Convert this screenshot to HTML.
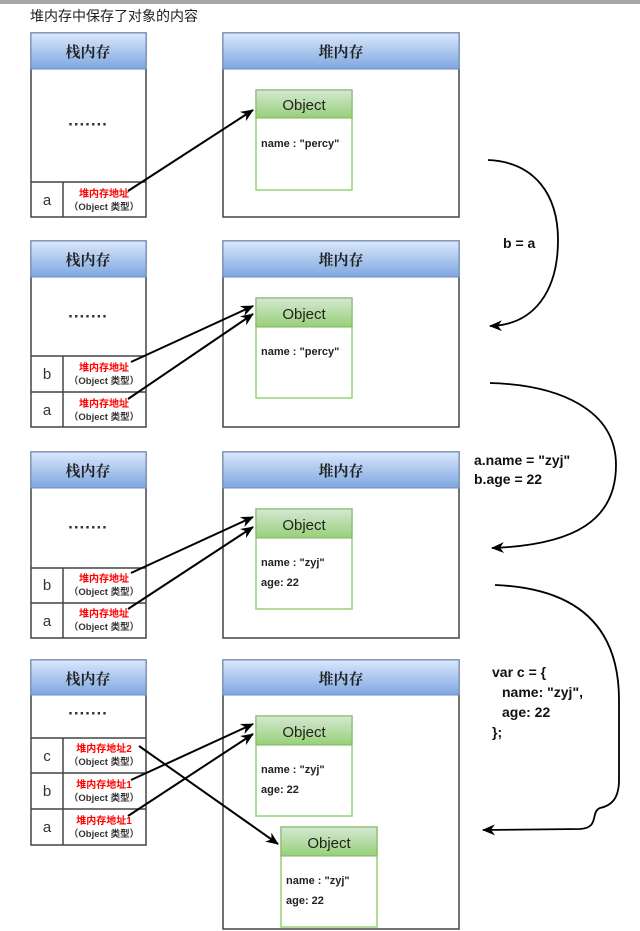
<!DOCTYPE html>
<html><head><meta charset="utf-8"><style>
html,body{margin:0;padding:0;background:#fff;}
svg{display:block}
.t{font-family:"Liberation Sans","Noto Sans CJK SC",sans-serif;}
.d{font-family:"Liberation Sans",sans-serif;font-size:17px;font-weight:bold;fill:#333;}
.h{font-family:"Noto Serif CJK SC","Liberation Serif",serif;font-size:15px;font-weight:bold;fill:#222;}
.red{font-family:"Liberation Sans","Noto Sans CJK SC",sans-serif;font-size:10px;font-weight:bold;fill:#f00;}
.ot{font-family:"Liberation Sans","Noto Sans CJK SC",sans-serif;font-size:9.5px;font-weight:bold;fill:#333;}
.obj{font-family:"Liberation Sans",sans-serif;font-size:15px;fill:#222;}
.fld{font-family:"Liberation Sans",sans-serif;font-size:11px;font-weight:bold;fill:#222;}
.lbl{font-family:"Liberation Sans",sans-serif;font-size:14px;font-weight:bold;fill:#111;}
</style></head><body>
<svg width="640" height="931" viewBox="0 0 640 931" xmlns="http://www.w3.org/2000/svg">
<defs>
<linearGradient id="bl" x1="0" y1="0" x2="0" y2="1"><stop offset="0" stop-color="#dae8fc"/><stop offset="1" stop-color="#7ea6e0"/></linearGradient>
<linearGradient id="gr" x1="0" y1="0" x2="0" y2="1"><stop offset="0" stop-color="#d5e8d4"/><stop offset="1" stop-color="#97d077"/></linearGradient>
<marker id="ar" markerWidth="14" markerHeight="14" refX="12" refY="7" orient="auto" markerUnits="userSpaceOnUse"><path d="M0,1.5 L13,7 L0,12.5 L4,7 Z" fill="#000"/></marker>
</defs>
<rect x="0" y="0" width="640" height="4" fill="#a6a6a6"/>
<text x="30" y="21" class="t" font-size="14" fill="#222">堆内存中保存了对象的内容</text>

<!-- Panel 1 -->
<g stroke="#444" stroke-width="1.5" fill="none">
<rect x="31" y="33" width="115" height="184" fill="#fff"/>
<rect x="223" y="33" width="236" height="184" fill="#fff"/>
</g>
<rect x="31" y="33" width="115" height="36" fill="url(#bl)" stroke="#6c8ebf"/>
<rect x="223" y="33" width="236" height="36" fill="url(#bl)" stroke="#6c8ebf"/>
<text x="88" y="57" class="h" text-anchor="middle">栈内存</text>
<text x="341" y="57" class="h" text-anchor="middle">堆内存</text>
<text x="88" y="130" class="d" text-anchor="middle">·······</text>
<g stroke="#444" stroke-width="1.5"><line x1="31" y1="182" x2="146" y2="182"/><line x1="63" y1="182" x2="63" y2="217"/></g>
<text x="47" y="205" class="t" font-size="15" text-anchor="middle" fill="#333">a</text>
<text x="104" y="197" class="red" text-anchor="middle">堆内存地址</text>
<text x="104" y="210" class="ot" text-anchor="middle">（Object 类型）</text>
<rect x="256" y="90" width="96" height="100" fill="#fff" stroke="#97d077" stroke-width="1.5"/>
<rect x="256" y="90" width="96" height="28" fill="url(#gr)" stroke="#82b366"/>
<text x="304" y="110" class="obj" text-anchor="middle">Object</text>
<text x="261" y="147" class="fld">name : "percy"</text>
<line x1="128" y1="191" x2="253" y2="110" stroke="#000" stroke-width="2" marker-end="url(#ar)"/>

<!-- Panel 2 -->
<g stroke="#444" stroke-width="1.5" fill="none">
<rect x="31" y="241" width="115" height="186" fill="#fff"/>
<rect x="223" y="241" width="236" height="186" fill="#fff"/>
</g>
<rect x="31" y="241" width="115" height="36" fill="url(#bl)" stroke="#6c8ebf"/>
<rect x="223" y="241" width="236" height="36" fill="url(#bl)" stroke="#6c8ebf"/>
<text x="88" y="265" class="h" text-anchor="middle">栈内存</text>
<text x="341" y="265" class="h" text-anchor="middle">堆内存</text>
<text x="88" y="322" class="d" text-anchor="middle">·······</text>
<g stroke="#444" stroke-width="1.5"><line x1="31" y1="356" x2="146" y2="356"/><line x1="31" y1="392" x2="146" y2="392"/><line x1="63" y1="356" x2="63" y2="427"/></g>
<text x="47" y="379" class="t" font-size="15" text-anchor="middle" fill="#333">b</text>
<text x="47" y="415" class="t" font-size="15" text-anchor="middle" fill="#333">a</text>
<text x="104" y="371" class="red" text-anchor="middle">堆内存地址</text>
<text x="104" y="384" class="ot" text-anchor="middle">（Object 类型）</text>
<text x="104" y="407" class="red" text-anchor="middle">堆内存地址</text>
<text x="104" y="420" class="ot" text-anchor="middle">（Object 类型）</text>
<rect x="256" y="298" width="96" height="100" fill="#fff" stroke="#97d077" stroke-width="1.5"/>
<rect x="256" y="298" width="96" height="29" fill="url(#gr)" stroke="#82b366"/>
<text x="304" y="319" class="obj" text-anchor="middle">Object</text>
<text x="261" y="355" class="fld">name : "percy"</text>
<line x1="131" y1="362" x2="253" y2="306" stroke="#000" stroke-width="2" marker-end="url(#ar)"/>
<line x1="128" y1="399" x2="253" y2="314" stroke="#000" stroke-width="2" marker-end="url(#ar)"/>

<!-- Panel 3 -->
<g stroke="#444" stroke-width="1.5" fill="none">
<rect x="31" y="452" width="115" height="186" fill="#fff"/>
<rect x="223" y="452" width="236" height="186" fill="#fff"/>
</g>
<rect x="31" y="452" width="115" height="36" fill="url(#bl)" stroke="#6c8ebf"/>
<rect x="223" y="452" width="236" height="36" fill="url(#bl)" stroke="#6c8ebf"/>
<text x="88" y="476" class="h" text-anchor="middle">栈内存</text>
<text x="341" y="476" class="h" text-anchor="middle">堆内存</text>
<text x="88" y="533" class="d" text-anchor="middle">·······</text>
<g stroke="#444" stroke-width="1.5"><line x1="31" y1="568" x2="146" y2="568"/><line x1="31" y1="603" x2="146" y2="603"/><line x1="63" y1="568" x2="63" y2="638"/></g>
<text x="47" y="590" class="t" font-size="15" text-anchor="middle" fill="#333">b</text>
<text x="47" y="626" class="t" font-size="15" text-anchor="middle" fill="#333">a</text>
<text x="104" y="582" class="red" text-anchor="middle">堆内存地址</text>
<text x="104" y="595" class="ot" text-anchor="middle">（Object 类型）</text>
<text x="104" y="617" class="red" text-anchor="middle">堆内存地址</text>
<text x="104" y="630" class="ot" text-anchor="middle">（Object 类型）</text>
<rect x="256" y="509" width="96" height="100" fill="#fff" stroke="#97d077" stroke-width="1.5"/>
<rect x="256" y="509" width="96" height="29" fill="url(#gr)" stroke="#82b366"/>
<text x="304" y="530" class="obj" text-anchor="middle">Object</text>
<text x="261" y="566" class="fld">name : "zyj"</text>
<text x="261" y="586" class="fld">age: 22</text>
<line x1="131" y1="573" x2="253" y2="517" stroke="#000" stroke-width="2" marker-end="url(#ar)"/>
<line x1="128" y1="609" x2="253" y2="527" stroke="#000" stroke-width="2" marker-end="url(#ar)"/>

<!-- Panel 4 -->
<g stroke="#444" stroke-width="1.5" fill="none">
<rect x="31" y="660" width="115" height="185" fill="#fff"/>
<rect x="223" y="660" width="236" height="269" fill="#fff"/>
</g>
<rect x="31" y="660" width="115" height="35" fill="url(#bl)" stroke="#6c8ebf"/>
<rect x="223" y="660" width="236" height="35" fill="url(#bl)" stroke="#6c8ebf"/>
<text x="88" y="684" class="h" text-anchor="middle">栈内存</text>
<text x="341" y="684" class="h" text-anchor="middle">堆内存</text>
<text x="88" y="719" class="d" text-anchor="middle">·······</text>
<g stroke="#444" stroke-width="1.5"><line x1="31" y1="738" x2="146" y2="738"/><line x1="31" y1="773" x2="146" y2="773"/><line x1="31" y1="809" x2="146" y2="809"/><line x1="63" y1="738" x2="63" y2="845"/></g>
<text x="47" y="761" class="t" font-size="15" text-anchor="middle" fill="#333">c</text>
<text x="47" y="796" class="t" font-size="15" text-anchor="middle" fill="#333">b</text>
<text x="47" y="832" class="t" font-size="15" text-anchor="middle" fill="#333">a</text>
<text x="104" y="752" class="red" text-anchor="middle">堆内存地址2</text>
<text x="104" y="765" class="ot" text-anchor="middle">（Object 类型）</text>
<text x="104" y="788" class="red" text-anchor="middle">堆内存地址1</text>
<text x="104" y="801" class="ot" text-anchor="middle">（Object 类型）</text>
<text x="104" y="824" class="red" text-anchor="middle">堆内存地址1</text>
<text x="104" y="837" class="ot" text-anchor="middle">（Object 类型）</text>
<rect x="256" y="716" width="96" height="100" fill="#fff" stroke="#97d077" stroke-width="1.5"/>
<rect x="256" y="716" width="96" height="29" fill="url(#gr)" stroke="#82b366"/>
<text x="304" y="737" class="obj" text-anchor="middle">Object</text>
<text x="261" y="773" class="fld">name : "zyj"</text>
<text x="261" y="793" class="fld">age: 22</text>
<rect x="281" y="827" width="96" height="100" fill="#fff" stroke="#97d077" stroke-width="1.5"/>
<rect x="281" y="827" width="96" height="29" fill="url(#gr)" stroke="#82b366"/>
<text x="329" y="848" class="obj" text-anchor="middle">Object</text>
<text x="286" y="884" class="fld">name : "zyj"</text>
<text x="286" y="904" class="fld">age: 22</text>
<line x1="131" y1="780" x2="253" y2="724" stroke="#000" stroke-width="2" marker-end="url(#ar)"/>
<line x1="128" y1="816" x2="253" y2="734" stroke="#000" stroke-width="2" marker-end="url(#ar)"/>
<line x1="139" y1="746" x2="278" y2="844" stroke="#000" stroke-width="2" marker-end="url(#ar)"/>

<!-- Right curves -->
<g fill="none" stroke="#000" stroke-width="1.8">
<path d="M488,160 C535,162 558,195 558,240 C558,290 535,325 490,326" marker-end="url(#ar)"/>
<path d="M490,383 C560,385 616,410 616,465 C616,520 575,545 492,548" marker-end="url(#ar)"/>
<path d="M495,585 C570,588 619,620 619,700 L619,780 C619,800 610,806 600,808 C590,812 600,828 580,829 L483,830" marker-end="url(#ar)"/>
</g>
<text x="503" y="248" class="lbl">b = a</text>
<text x="474" y="465" class="lbl">a.name = "zyj"</text>
<text x="474" y="484" class="lbl">b.age = 22</text>
<text x="492" y="677" class="lbl">var c = {</text>
<text x="502" y="697" class="lbl">name: "zyj",</text>
<text x="502" y="717" class="lbl">age: 22</text>
<text x="492" y="737" class="lbl">};</text>
</svg>
</body></html>
